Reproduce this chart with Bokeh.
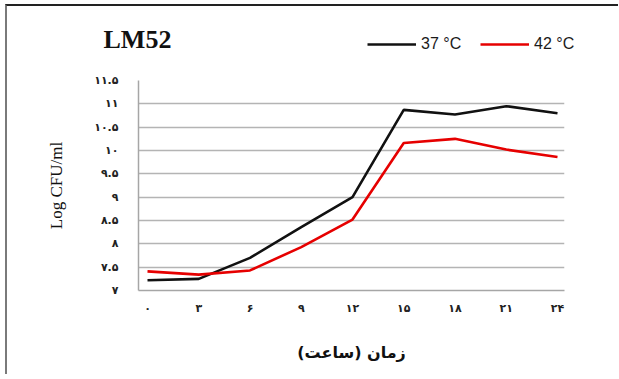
from bokeh.plotting import figure
from bokeh.layouts import column
from bokeh.models import (FixedTicker, Legend, LegendItem, Range1d, Label)
from bokeh.embed import file_html
from bokeh.resources import INLINE

# ---- data ----
hours = [0, 3, 6, 9, 12, 15, 18, 21, 24]
hour_labels = ["۰", "۳", "۶", "۹", "۱۲", "۱۵", "۱۸", "۲۱", "۲۴"]
cfu_37 = [7.22, 7.25, 7.70, 8.36, 9.00, 10.87, 10.77, 10.95, 10.80]
cfu_42 = [7.41, 7.34, 7.43, 7.93, 8.52, 10.16, 10.25, 10.02, 9.86]
y_ticks = [7, 7.5, 8, 8.5, 9, 9.5, 10, 10.5, 11, 11.5]
y_tick_labels = ["۷", "۷.۵", "۸", "۸.۵", "۹", "۹.۵", "۱۰", "۱۰.۵", "۱۱", "۱۱.۵"]
series_names = ["37 °C", "42 °C"]
series_colors = ["#111111", "#e60000"]
title_text = "LM52"
x_title = "\u200fزمان (ساعت)\u200f"
y_title = "Log CFU/ml"

W = 611
HEAD_H = 60
H = 308
FL, FT, FW, FH = 131, 14, 426, 210

# ---- header (title + legend) ----
head = figure(width=W, height=HEAD_H, output_backend="svg", toolbar_location=None,
              x_range=Range1d(0, W), y_range=Range1d(0, HEAD_H),
              min_border=0, min_border_left=0, min_border_right=0,
              min_border_top=0, min_border_bottom=0,
              x_axis_type=None, y_axis_type=None, frame_align=False)
head.outline_line_color = None
head.grid.visible = False
head.background_fill_color = "white"
head.border_fill_color = "white"

# legend proxies: no visible points, only their line styles feed the legend
nan = float("nan")
proxies = [head.line([nan], [nan], line_color=c, line_width=2.6) for c in series_colors]

head.add_layout(Label(x=96, y=27, x_units="screen", y_units="screen",
                      text=title_text, text_font="Liberation Serif",
                      text_font_style="bold", text_font_size="26px",
                      text_color="#111111", text_baseline="alphabetic"))

legend = Legend(items=[LegendItem(label=n, renderers=[r])
                       for n, r in zip(series_names, proxies)],
                orientation="horizontal", location=(360, 13),
                glyph_width=49, glyph_height=18, label_height=18,
                label_width=42, label_standoff=5, spacing=17,
                padding=0, margin=0,
                label_text_font="Liberation Sans", label_text_font_size="16px",
                label_text_color="#1a1a1a",
                background_fill_alpha=0, border_line_color=None)
head.add_layout(legend, "center")

# ---- main chart ----
p = figure(width=W, height=H, output_backend="svg", toolbar_location=None,
           x_range=Range1d(-0.527, 24.41), y_range=Range1d(7, 11.5),
           min_border_left=FL, min_border_top=FT,
           min_border_right=W - FL - FW, min_border_bottom=H - FT - FH,
           frame_align=False)
p.outline_line_color = None
p.background_fill_color = "white"
p.border_fill_color = "white"

p.line(hours, cfu_37, line_color=series_colors[0], line_width=2.6)
p.line(hours, cfu_42, line_color=series_colors[1], line_width=2.6)

p.xaxis.ticker = FixedTicker(ticks=hours)
p.xaxis.major_label_overrides = {h: l for h, l in zip(hours, hour_labels)}
p.yaxis.ticker = FixedTicker(ticks=y_ticks)
p.yaxis.major_label_overrides = {t: l for t, l in zip(y_ticks, y_tick_labels)}
for ax in (p.xaxis[0], p.yaxis[0]):
    ax.major_tick_line_color = None
    ax.minor_tick_line_color = None
    ax.axis_line_color = "#a6a6a6"
    ax.axis_line_width = 1.5
    ax.major_label_text_font = "DejaVu Sans"
    ax.major_label_text_font_style = "bold"
    ax.major_label_text_font_size = "11px"
    ax.major_label_text_color = "#222222"
p.yaxis.major_label_standoff = 14
p.xaxis.major_label_standoff = 5

p.xaxis.axis_label = x_title
p.xaxis.axis_label_text_font = "DejaVu Sans"
p.xaxis.axis_label_text_font_style = "bold"
p.xaxis.axis_label_text_font_size = "16px"
p.xaxis.axis_label_text_color = "#111111"
p.xaxis.axis_label_standoff = 25

p.yaxis.axis_label = y_title
p.yaxis.axis_label_text_font = "Liberation Serif"
p.yaxis.axis_label_text_font_style = "normal"
p.yaxis.axis_label_text_font_size = "17px"
p.yaxis.axis_label_text_color = "#111111"
p.yaxis.axis_label_standoff = 25

p.xgrid.grid_line_color = None
p.ygrid.grid_line_color = "#b4b4b4"
p.ygrid.grid_line_width = 1.5

layout = column(head, p, spacing=0,
                styles={"margin-left": "5px", "margin-top": "4px",
                        "border-left": "2px solid #7a7a7a",
                        "border-top": "2px solid #222222"})

open("out.html", "w").write(file_html(layout, INLINE))
